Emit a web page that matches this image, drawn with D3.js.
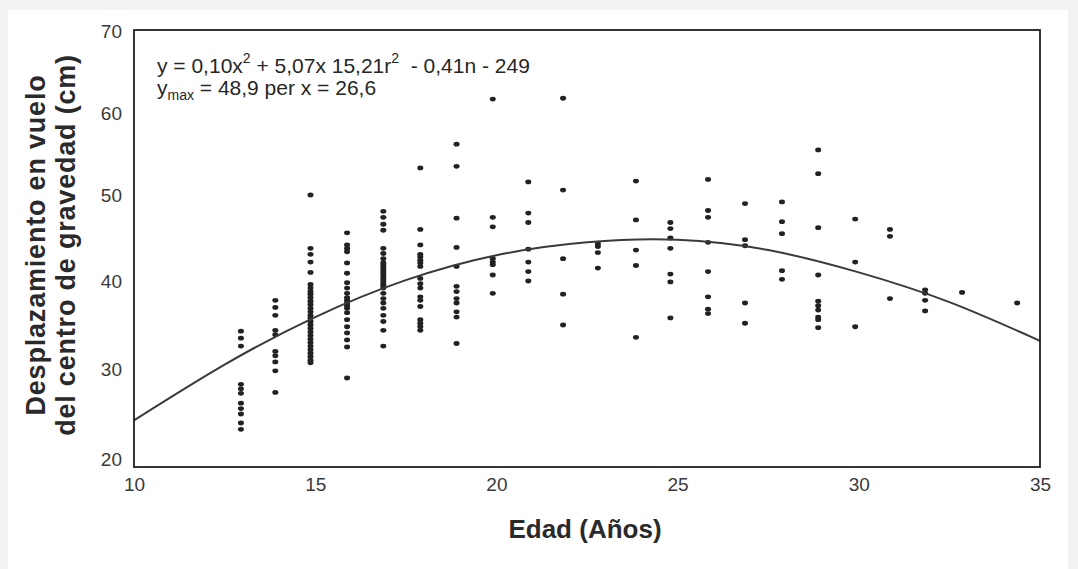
<!DOCTYPE html>
<html><head><meta charset="utf-8">
<script src="https://cdn.jsdelivr.net/npm/d3@7"></script>
<style>
body{margin:0;background:#f3f3f3}
text{font-family:"Liberation Sans",Arial,sans-serif}
</style>
</head><body>
<svg id="chart" width="1078" height="569"></svg>
<script>
// ---- data ----
const xTicks = [10, 15, 20, 25, 30, 35];
const yTicks = [20, 30, 40, 50, 60, 70];
const ages = [12.95, 13.9, 14.87, 15.88, 16.88, 17.9, 18.9, 19.9, 20.88, 21.84, 22.8,
              23.85, 24.8, 25.84, 26.86, 27.88, 28.88, 29.9, 30.86, 31.83, 32.85, 34.37];
const displacement = [
  [34.3, 33.5, 32.6, 28.3, 27.8, 27.3, 26.2, 25.6, 25.0, 24.0, 23.3],
  [37.8, 37.0, 36.1, 34.4, 33.9, 32.0, 31.5, 30.8, 29.8, 27.4],
  [50.0, 43.8, 43.1, 42.2, 41.0, 39.6, 39.2, 38.8, 38.5, 38.1, 37.7, 37.3, 36.9, 36.5, 36.1,
   35.8, 35.4, 35.0, 34.6, 34.2, 33.8, 33.4, 33.0, 32.6, 32.2, 31.8, 31.4, 31.0, 30.7],
  [45.6, 44.2, 43.8, 43.4, 42.1, 40.9, 39.8, 39.2, 38.6, 38.1, 37.8, 37.5, 37.2, 36.9, 36.4,
   35.6, 34.8, 34.1, 33.3, 32.5, 29.0],
  [48.1, 47.4, 46.6, 45.9, 43.8, 43.2, 42.6, 42.1, 41.8, 41.5, 41.2, 40.9, 40.6, 40.3, 40.0,
   39.7, 39.5, 39.2, 38.6, 38.0, 37.5, 36.9, 36.1, 35.4, 34.4, 32.6],
  [53.3, 46.0, 44.2, 43.1, 42.8, 42.4, 42.1, 41.7, 40.3, 39.7, 39.2, 38.2, 37.8, 37.1, 35.6,
   35.2, 34.8, 34.4],
  [56.2, 53.5, 47.3, 43.9, 41.7, 39.4, 38.8, 38.0, 37.5, 36.5, 35.9, 32.9],
  [61.7, 47.4, 46.3, 42.6, 42.2, 41.9, 40.7, 38.6],
  [51.6, 47.9, 46.8, 43.7, 42.2, 41.1, 40.0],
  [61.8, 50.6, 42.6, 38.5, 35.0],
  [44.3, 44.0, 43.3, 41.5],
  [51.7, 47.1, 43.6, 41.8, 33.6],
  [46.8, 46.1, 45.0, 43.8, 40.8, 39.9, 35.8],
  [51.9, 48.2, 47.4, 44.5, 41.1, 38.2, 36.8, 36.3],
  [49.0, 44.8, 44.1, 37.5, 35.2],
  [49.2, 46.9, 45.5, 41.2, 40.2],
  [55.5, 52.6, 46.2, 40.7, 37.7, 37.2, 36.7, 35.9, 35.6, 34.7],
  [47.2, 42.2, 34.8],
  [46.0, 45.2, 38.0],
  [39.0, 38.6, 37.8, 36.6],
  [38.7],
  [37.5]
];
const fitAges   = [10, 12.5, 15, 17.5, 20, 22.5, 25, 27.5, 30, 32.5, 35];
const fitValues = [24.3, 30.5, 35.9, 40.1, 43.0, 44.5, 44.8, 43.6, 41.0, 37.6, 33.2];
const xTitle = "Edad (Años)";
const yTitle = ["Desplazamiento en vuelo", "del centro de gravedad (cm)"];

// ---- layout ----
const svg = d3.select("#chart");
svg.append("rect").attr("width", 1078).attr("height", 569).attr("fill", "#f3f3f3");
svg.append("rect").attr("x", 8).attr("y", 10).attr("width", 1060).attr("height", 559).attr("fill", "#fff");

const x = d3.scaleLinear().domain([10, 35]).range([134, 1040]);
const y = d3.scaleLinear().domain(yTicks).range([459, 369, 281, 195, 113, 31]);
const frameTop = 30, frameBottom = 467;

// points
const pts = [];
ages.forEach((a, i) => displacement[i].forEach(v => pts.push([a, v])));
svg.append("g").selectAll("ellipse").data(pts).join("ellipse")
  .attr("cx", d => x(d[0])).attr("cy", d => y(d[1]))
  .attr("rx", 3).attr("ry", 2.4).attr("fill", "#222");

// fitted curve
const line = d3.line().x((d, i) => x(fitAges[i])).y(d => y(d)).curve(d3.curveNatural);
svg.append("path").attr("d", line(fitValues)).attr("fill", "none")
  .attr("stroke", "#3a3a3a").attr("stroke-width", 2);

// frame
svg.append("rect").attr("x", x(10)).attr("y", frameTop)
  .attr("width", x(35) - x(10)).attr("height", frameBottom - frameTop)
  .attr("fill", "none").attr("stroke", "#1e1e1e").attr("stroke-width", 1.8);

// axes
const xAxis = svg.append("g").attr("transform", `translate(0,${frameBottom})`)
  .call(d3.axisBottom(x).tickValues(xTicks).tickSize(0).tickPadding(11).tickFormat(d3.format("d")));
xAxis.select(".domain").remove();
xAxis.selectAll("text").attr("font-size", 19).attr("fill", "#3a3a3a")
  .style("font-family", '"Liberation Sans",Arial,sans-serif');

const yAxis = svg.append("g").attr("transform", `translate(${x(10)},0)`)
  .call(d3.axisLeft(y).tickValues(yTicks).tickSize(0).tickPadding(12).tickFormat(d3.format("d")));
yAxis.select(".domain").remove();
yAxis.selectAll("text").attr("font-size", 19).attr("fill", "#3a3a3a")
  .style("font-family", '"Liberation Sans",Arial,sans-serif');

// titles
svg.append("text").attr("x", 585).attr("y", 538).attr("text-anchor", "middle")
  .attr("font-size", 26).attr("font-weight", "bold").attr("fill", "#2a2a2a").text(xTitle);
const yt = svg.append("text").attr("transform", "translate(45,245) rotate(-90)")
  .attr("text-anchor", "middle").attr("font-size", 27).attr("font-weight", "bold")
  .attr("fill", "#2a2a2a").attr("letter-spacing", 0.8);
yt.append("tspan").attr("x", 0).attr("y", 0).text(yTitle[0]);
yt.append("tspan").attr("x", 0).attr("y", 30).text(yTitle[1]);

// equation annotation
const eq = svg.append("text").attr("x", 157).attr("y", 73).attr("font-size", 21)
  .attr("fill", "#262626").style("white-space", "pre");
eq.append("tspan").text("y = 0,10x");
eq.append("tspan").attr("dy", -10).attr("font-size", 14).text("2");
eq.append("tspan").attr("dy", 10).text(" + 5,07x 15,21r");
eq.append("tspan").attr("dy", -10).attr("font-size", 14).text("2");
eq.append("tspan").attr("dy", 10).text("  - 0,41n - 249");

const eq2 = svg.append("text").attr("x", 157).attr("y", 95).attr("font-size", 21)
  .attr("fill", "#262626").style("white-space", "pre");
eq2.append("tspan").text("y");
eq2.append("tspan").attr("dy", 5).attr("font-size", 14).text("max");
eq2.append("tspan").attr("dy", -5).text(" = 48,9 per x = 26,6");
</script>
</body></html>
